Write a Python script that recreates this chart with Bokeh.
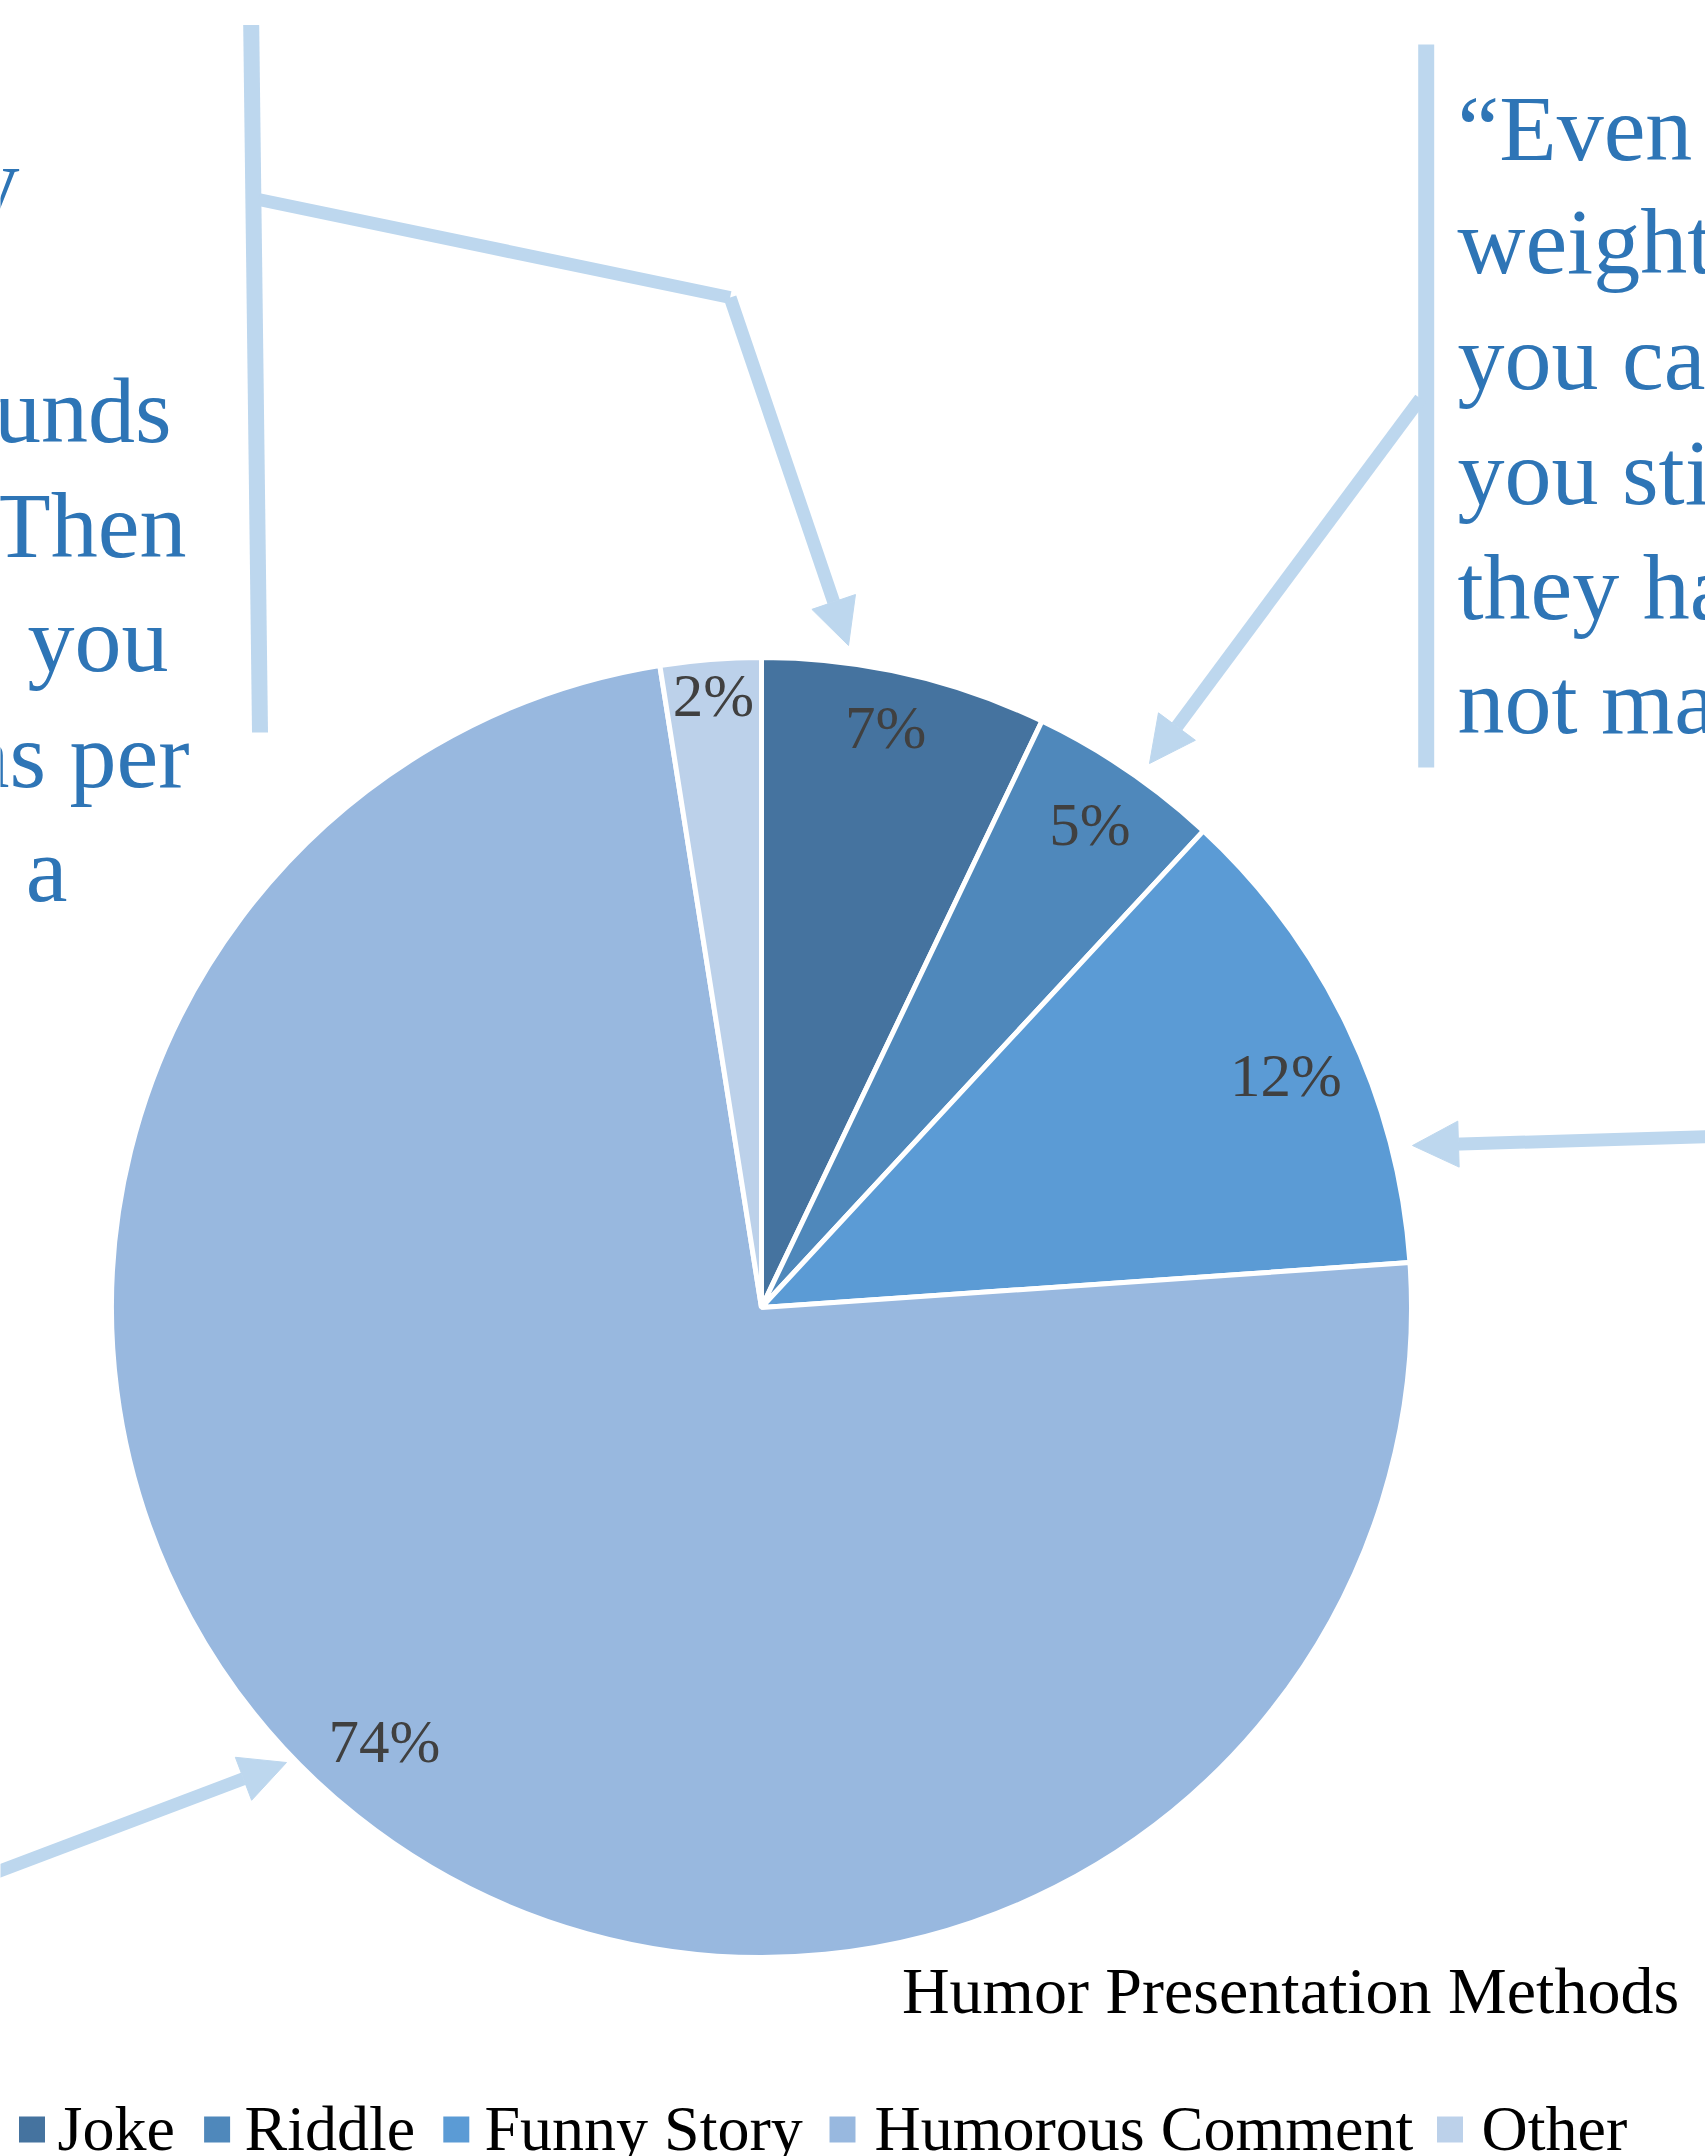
import math
from bokeh.plotting import figure
from bokeh.models import Range1d, Arrow, NormalHead, ColumnDataSource
from bokeh.core.properties import value
from bokeh.embed import file_html
from bokeh.resources import INLINE

# ---------------- data ----------------
categories = ["Joke", "Riddle", "Funny Story", "Humorous Comment", "Other"]
shares = [7.1, 4.8, 12.0, 73.6, 2.5]
colors = ["#45739f", "#4f88bb", "#5b9bd5", "#98b8df", "#bcd1ea"]
title_text = "Humor Presentation Methods"
left_quote = ["y", "pounds", "Then", "you", "as per", "a"]
right_quote = ["\u201cEven", "weight", "you can", "you still", "they have", "not made"]

# ---------------- layout constants (page pixels) ----------------
W, H = 1705, 2156
def Y(img_y):
    return H - img_y

FONT = "Liberation Serif"
QUOTE_BLUE = "#2e75b6"
CALLOUT = "#bdd7ee"

p = figure(width=W, height=H, output_backend="svg", toolbar_location=None,
           x_range=Range1d(0, W), y_range=Range1d(0, H), min_border=0)
p.axis.visible = False
p.grid.visible = False
p.outline_line_color = None
p.background_fill_color = "white"
p.border_fill_color = "white"

# ---------------- pie ----------------
cx, cy, r = 761, Y(1307), 650
total = sum(shares)
label_factor = [0.912, 0.899, 0.882, 0.884, 0.945]
label_turn = [-0.7, 0.0, 1.7, 2.5, 0.0]  # degrees, clockwise
starts, ends, lx, ly, labels = [], [], [], [], []
cum = 0.0
for i, s in enumerate(shares):
    a0 = math.pi / 2 - 2 * math.pi * cum / total
    a1 = math.pi / 2 - 2 * math.pi * (cum + s) / total
    mid = math.pi / 2 - 2 * math.pi * (cum + s / 2) / total - math.radians(label_turn[i])
    starts.append(a0)
    ends.append(a1)
    lx.append(cx + label_factor[i] * r * math.cos(mid))
    ly.append(cy + label_factor[i] * r * math.sin(mid))
    labels.append(f"{round(s)}%")
    cum += s

src = ColumnDataSource(dict(cat=categories, start=starts, end=ends, color=colors,
                            lx=lx, ly=ly, label=labels))
p.wedge(x=cx, y=cy, radius=r, start_angle="start", end_angle="end", direction="clock",
        fill_color="color", line_color="white", line_width=5, source=src)
p.text(x="lx", y="ly", text="label", source=src, text_font=value(FONT),
       text_font_size="61px", text_color="#404040", text_align="center",
       text_baseline="middle")

# ---------------- callout lines ----------------
p.segment(x0=[250.7, 1425.7], y0=[Y(24.5), Y(44)], x1=[259.5, 1425.7], y1=[Y(732), Y(767)],
          line_color=CALLOUT, line_width=16)
p.line(x=[258, 729.6], y=[Y(199), Y(297)], line_color=CALLOUT, line_width=13,
       line_join="miter")

arrows = [
    (729.6, Y(297), 848, Y(645)),
    (1420, Y(398), 1149, Y(763)),
    (1712, Y(1136), 1412, Y(1145)),
    (-10, Y(1874), 286, Y(1762)),
]
for (x0, y0, x1, y1) in arrows:
    p.add_layout(Arrow(end=NormalHead(size=46, fill_color=CALLOUT, line_color=CALLOUT),
                       x_start=x0, y_start=y0, x_end=x1, y_end=y1,
                       line_color=CALLOUT, line_width=13))

# ---------------- quote texts (middle baseline = alphabetic - 0.34em) ----------------
QS = 94
left_base = [211, 441, 556, 670, 786, 900]
left_right = [19, 171, 186, 168, 189, 67]
p.text(x=left_right, y=[Y(v - 0.34 * QS) for v in left_base], text=left_quote,
       text_font=value(FONT), text_font_size=f"{QS}px", text_color=QUOTE_BLUE,
       text_align="right", text_baseline="middle")

right_base = [159, 272, 388, 503, 618, 732]
p.text(x=[1457] * len(right_quote), y=[Y(v - 0.34 * QS) for v in right_base], text=right_quote,
       text_font=value(FONT), text_font_size=f"{QS}px", text_color=QUOTE_BLUE,
       text_align="left", text_baseline="middle")

# ---------------- title ----------------
TS = 66
p.text(x=[1290], y=[Y(2012 - 0.34 * TS)], text=[title_text], text_font=value(FONT),
       text_font_size=f"{TS}px", text_color="black", text_align="center",
       text_baseline="middle")

# ---------------- legend (drawn) ----------------
LS = 64
sq_x = [31.5, 216.6, 455.8, 842, 1449.5]
tx_x = [57, 244, 484, 874, 1481]
p.rect(x=sq_x, y=[Y(2129)] * 5, width=26, height=26, fill_color=colors, line_color=None)
p.text(x=tx_x, y=[Y(2150 - 0.34 * LS)] * 5, text=categories, text_font=value(FONT),
       text_font_size=f"{LS}px", text_color="black", text_align="left",
       text_baseline="middle")

open("out.html", "w").write(file_html(p, INLINE))
